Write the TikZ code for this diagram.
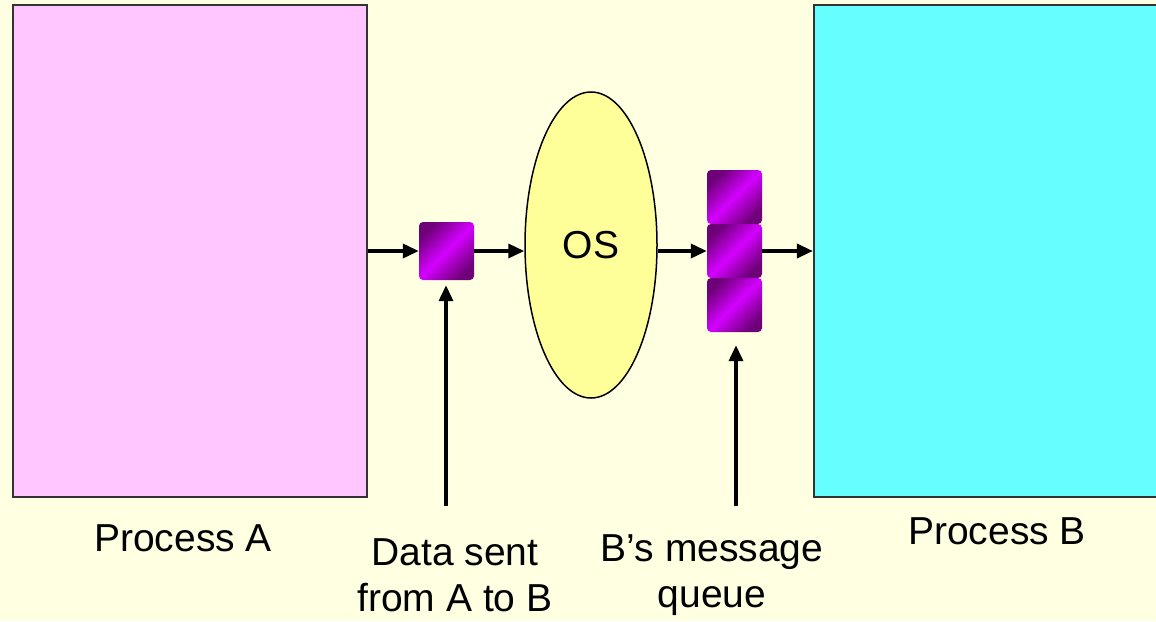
\documentclass[tikz,border=0pt]{standalone}
\usepackage{fontspec}
\setmainfont{Liberation Sans}
\usetikzlibrary{shapes.geometric,arrows.meta}
\definecolor{paper}{HTML}{FFFFE2}
\definecolor{pinkfill}{HTML}{FFC6FF}
\definecolor{cyanfill}{HTML}{66FFFF}
\definecolor{osfill}{HTML}{FFFF99}
\definecolor{purpledark}{HTML}{6E0078}
\definecolor{purplebright}{HTML}{D400FF}
\definecolor{edgegray}{HTML}{333333}
\tikzset{
  procbox/.style={draw=edgegray, line width=2.2pt, minimum width=354pt, minimum height=492pt, inner sep=0pt},
  packet/.style={rounded corners=4pt, minimum width=55pt, inner sep=0pt,
    shading=axis, top color=purpledark, bottom color=purpledark, middle color=purplebright, shading angle=45},
  flow/.style={line width=3.5pt, -{Triangle[length=16pt,width=14pt]}},
  lab/.style={font=\fontsize{39}{46}\selectfont, align=center, inner sep=0pt}
}
\begin{document}
\begin{tikzpicture}[x=1pt,y=-1pt]
  \useasboundingbox (0,0) rectangle (1156,621);
  \clip (0,0) rectangle (1156,621);
  \fill[paper] (0,0) rectangle (1156,621);

  % the two processes
  \node[procbox, fill=pinkfill] (procA) at (190,251) {};
  \node[procbox, fill=cyanfill, minimum width=360pt] (procB) at (994,251) {};

  % message in transit
  \node[packet, minimum height=58pt] (msg) at (446.5,251) {};

  % operating system
  \node[ellipse, draw=black, line width=1.5pt, fill=osfill, minimum width=132pt, minimum height=306pt, inner sep=0pt,
        font=\fontsize{39}{42}\selectfont] (os) at (591,245) {OS};

  % receiver queue of three slots
  \node[packet, minimum height=54pt] (q1) at (734.5,197) {};
  \node[packet, minimum height=54pt] (q2) at (734.5,251) {};
  \node[packet, minimum height=54pt] (q3) at (734.5,305) {};

  % flow of the message
  \draw[flow] (procA.east) -- (msg.west);
  \draw[flow] (msg.east) -- (msg.east -| os.west);
  \draw[flow] (q2.west -| os.east) -- (q2.west);
  \draw[flow] (q2.east) -- (procB.west);

  % pointers from labels
  \coordinate (pA) at (446,506);
  \coordinate (pB) at (736,506);
  \draw[flow, shorten >=5pt] (pA) -- (pA |- msg.south);
  \draw[flow, shorten >=13pt] (pB) -- (pB |- q3.south);

  % labels
  \node[lab] (labA) at (183,538) {Process A};
  \node[lab] (labB) at (997,531) {Process B};
  \node[lab] (labMsg) at (455,575) {Data sent\\from A to B};
  \node[lab] (labQ) at (712,575) {B’s message\\queue};
\end{tikzpicture}
\end{document}
